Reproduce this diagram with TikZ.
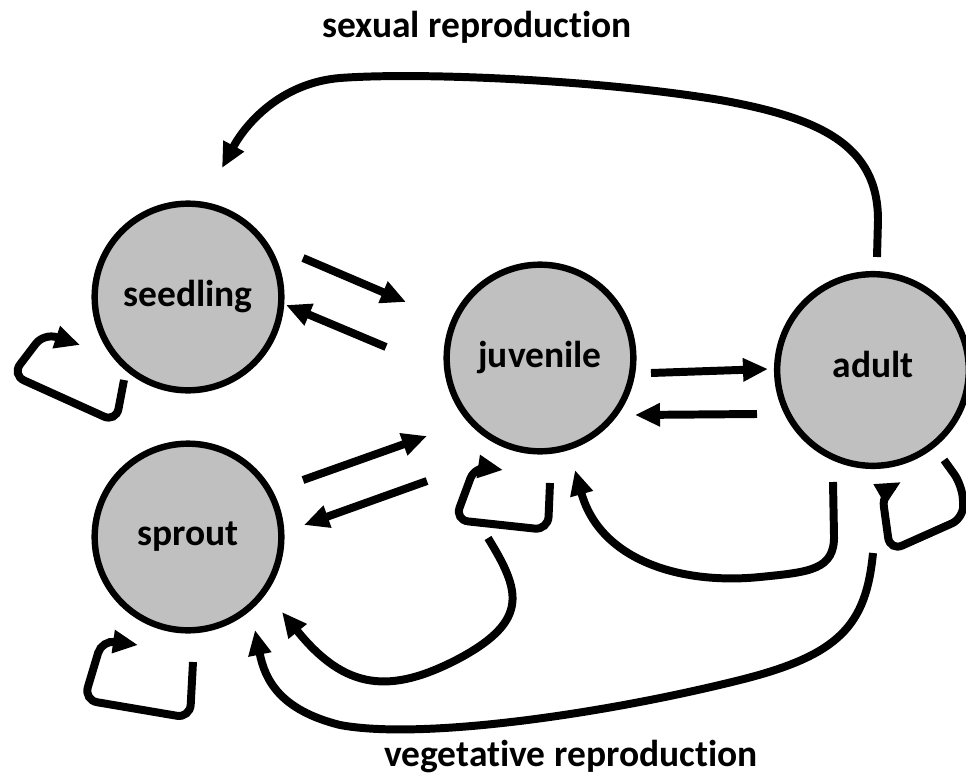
\documentclass[tikz,border=0pt]{standalone}
\usepackage{fontspec}
\setmainfont[Ligatures={NoCommon}]{Carlito}
\usepackage{xcolor}
\usetikzlibrary{positioning,arrows.meta,calc}
\definecolor{stagegray}{RGB}{192,192,192}

\begin{document}
\begin{tikzpicture}[x=0.03cm, y=-0.03cm,
  stage/.style={circle, draw, line width=5.5pt, fill=stagegray, minimum size=5.6cm, inner sep=0pt,
                font=\fontsize{32}{36}\selectfont\bfseries},
  flow/.style={line width=6.8pt, -{Triangle[length=0.75cm,width=0.66cm]}},
  selfloop/.style={flow, rounded corners=0.4cm},
  caption/.style={font=\fontsize{32}{36}\selectfont\bfseries}]
  \useasboundingbox (0,0) rectangle (966,780);

  % life stages
  \node[stage] (seedling) at (188,297) {seedling};
  \node[stage] (sprout)   at (188,537) {sprout};
  \node[stage] (juvenile) at (540,358) {juvenile};
  \node[stage, minimum size=5.75cm] (adult) at (873,370) {\raisebox{0.33cm}{adult}};

  \node[caption] (sexual)     at (477,27)  {sexual reproduction};
  \node[caption] (vegetative) at (571,757) {vegetative reproduction};

  % transitions between stages
  \draw[flow] ($(seedling)+(115,-39)$) -- ($(juvenile)+(-134,-56)$);
  \draw[flow] ($(juvenile)+(-154,-11)$) -- ($(seedling)+(98,8)$);
  \draw[flow] ($(sprout)+(115,-57)$) -- ($(juvenile)+(-113,78)$);
  \draw[flow] ($(juvenile)+(-113,123)$) -- ($(sprout)+(116,-12)$);
  \draw[flow] ($(juvenile)+(111,15)$) -- ($(adult)+(-105,-1)$);
  \draw[flow] ($(adult)+(-116,44)$) -- ($(juvenile)+(95,57)$);

  % stasis
  \draw[selfloop] ($(seedling)+(-64,83)$) -- ++(-8,42) -- ++(-104,-47) -- ++(32,-42) -- ++(36,12);
  \draw[selfloop] ($(sprout)+(5,125)$) -- ++(-3,56) -- ++(-106,-18) -- ++(18,-60) -- ++(36,5);
  \draw[selfloop] ($(juvenile)+(10,125)$) -- ++(-2,47) -- ++(-93,-10) -- ++(20,-54) -- ++(28,4);
  \draw[selfloop] ($(adult)+(71,90)$) -- ++(18,25) -- ++(2,33) -- ++(-74,33) -- ++(-8,-58) -- ++(19,-11);

  % longer transitions
  \draw[flow] ($(juvenile)+(-52,180)$) .. controls (520,590) and (530,620) .. (460,658)
              .. controls (390,695) and (345,690) .. ($(sprout)+(94,75)$);
  \draw[flow] ($(adult)+(-40,112)$) -- (834,535) .. controls (835,570) and (810,572) .. (760,577)
              .. controls (680,585) and (600,560) .. ($(juvenile)+(35,112)$);
  \draw[flow] ($(adult)+(0,183)$) .. controls (866,625) and (840,655) .. (740,680)
              .. controls (600,715) and (420,740) .. (340,725)
              .. controls (280,710) and (265,680) .. ($(sprout)+(67,93)$);
  \draw[flow] ($(adult)+(4,-113)$) -- (878,220) .. controls (878,145) and (820,118) .. (720,100)
              .. controls (600,80) and (420,72) .. (340,78)
              .. controls (280,83) and (245,125) .. ($(seedling)+(34,-129)$);
\end{tikzpicture}
\end{document}
